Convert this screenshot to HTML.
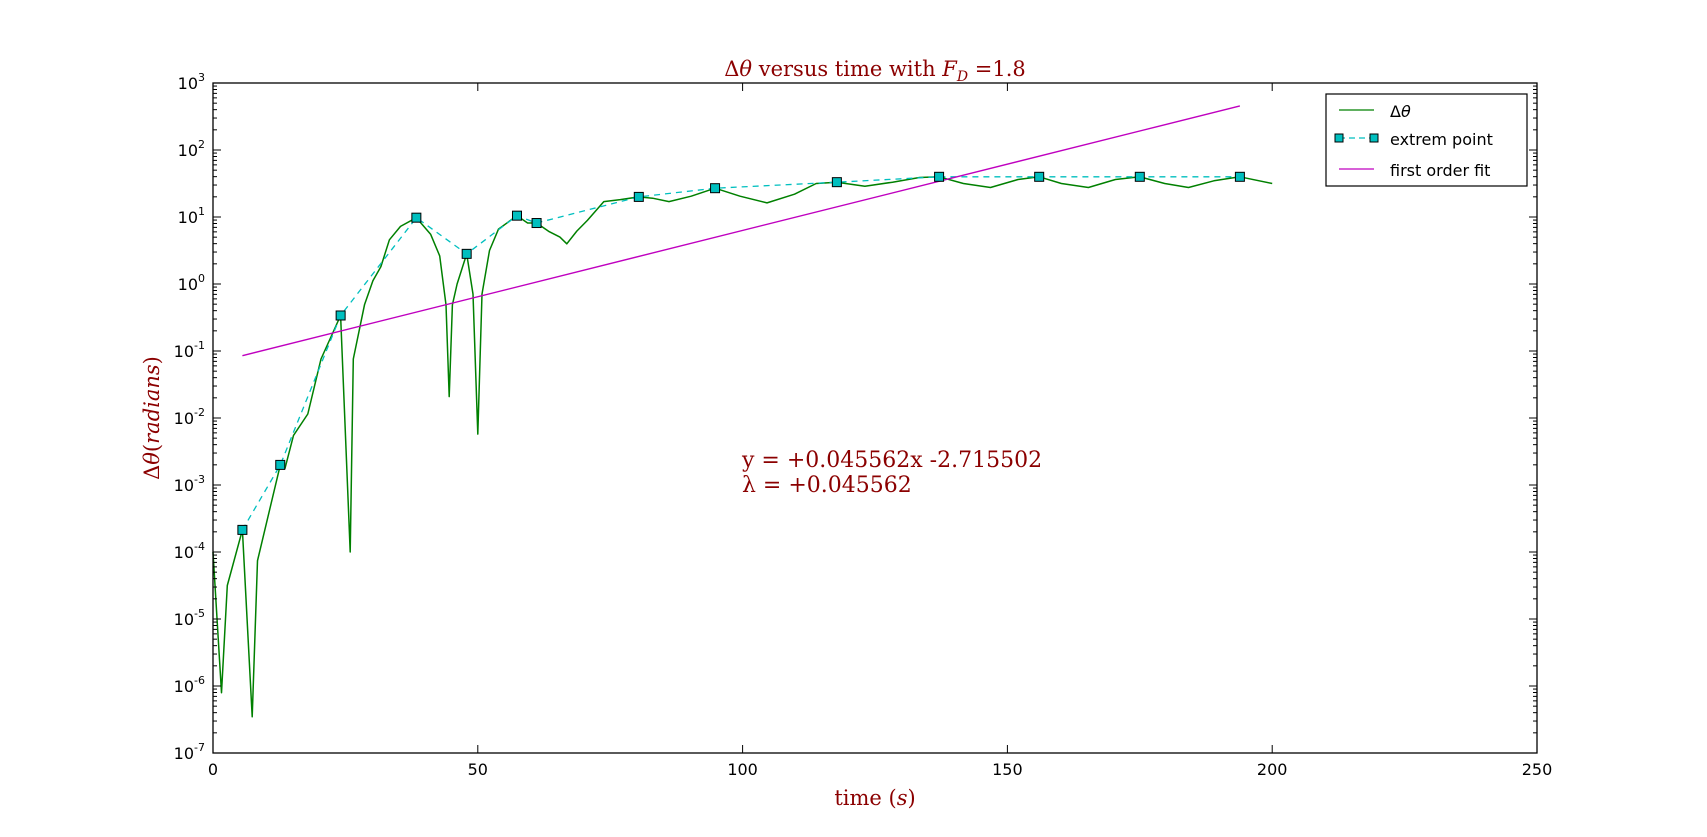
<!DOCTYPE html>
<html><head><meta charset="utf-8"><style>
html,body{margin:0;padding:0;background:#fff;}
svg{display:block;}
.tk{font-family:"DejaVu Sans","Liberation Sans",sans-serif;font-size:16px;fill:#000;}
.red{font-family:"DejaVu Serif","Liberation Serif",serif;fill:#8b0000;}
</style></head><body>
<svg id="chart" width="1707" height="837" viewBox="0 0 1707 837" xmlns="http://www.w3.org/2000/svg">
<rect x="0" y="0" width="1707" height="837" fill="#fff"/>
<g id="plot"></g>
<text class="red" x="875" y="76" text-anchor="middle" font-size="21">Δ<tspan font-style="italic">θ</tspan> versus time with <tspan font-style="italic">F</tspan><tspan font-style="italic" font-size="14" dy="5">D</tspan><tspan dy="-5"> =1.8</tspan></text>
<text class="red" x="875" y="805" text-anchor="middle" font-size="21">time (<tspan font-style="italic">s</tspan>)</text>
<text class="red" transform="translate(159,418) rotate(-90)" text-anchor="middle" font-size="21">Δ<tspan font-style="italic">θ</tspan>(<tspan font-style="italic">radians</tspan>)</text>
<text class="red" x="742" y="467" font-size="22">y = +0.045562x -2.715502</text>
<text class="red" x="742" y="492" font-size="22">λ = +0.045562</text>
<g>
<rect x="1326" y="94" width="201" height="92" fill="#fff" stroke="#000" stroke-width="1.2"/>
<g>
<line x1="1339" y1="110" x2="1374" y2="110" stroke="#008000" stroke-width="1.3"/>
<text class="tk" x="1390" y="117" font-size="18" font-family="DejaVu Serif,serif">Δ<tspan font-style="italic">θ</tspan></text></g>
<g>
<line x1="1339" y1="138" x2="1374" y2="138" stroke="#00bfbf" stroke-width="1.3" stroke-dasharray="6,4"/>
<rect x="1335" y="134" width="8" height="8" fill="#00bfbf" stroke="#000" stroke-width="1"/>
<rect x="1370" y="134" width="8" height="8" fill="#00bfbf" stroke="#000" stroke-width="1"/>
<text class="tk" x="1390" y="145" font-size="18">extrem point</text></g>
<g>
<line x1="1339" y1="169" x2="1374" y2="169" stroke="#bf00bf" stroke-width="1.3"/>
<text class="tk" x="1390" y="176" font-size="18">first order fit</text></g>
</g>
</svg>
<script>
const curveT=[0,1.6,2.7,5.55,7.4,8.4,12.7,13.6,15.2,17.9,20.4,24.1,25.9,26.5,28.6,30.2,31.7,33.3,35.4,38.4,41.1,42.8,44.0,44.6,45.2,46.1,47.9,49.1,50,50.8,52.2,53.9,57.4,59.4,61.1,63.5,65.5,66.8,68.7,70.7,73.8,76.9,80.4,83,86.1,90.3,94.8,99.5,104.6,109.8,113.9,117.8,123.1,128.3,133.4,137.1,141.7,146.8,152,156,160.2,165.3,170.4,175,179.7,184.2,189,193.9,200];
const curveLog=[-4,-6.1,-4.5,-3.67,-6.46,-4.13,-2.7,-2.75,-2.26,-1.94,-1.12,-0.47,-4.0,-1.12,-0.31,0.05,0.26,0.66,0.86,0.99,0.74,0.42,-0.31,-1.68,-0.31,0.0,0.45,-0.15,-2.24,-0.15,0.5,0.82,1.02,0.91,0.91,0.78,0.7,0.6,0.79,0.95,1.23,1.26,1.3,1.28,1.23,1.31,1.43,1.31,1.21,1.34,1.5,1.52,1.46,1.52,1.59,1.6,1.5,1.44,1.56,1.6,1.5,1.44,1.56,1.6,1.5,1.44,1.54,1.6,1.5];
const extT=[5.55,12.7,24.1,38.4,47.9,57.4,61.1,80.4,94.8,117.8,137.1,156,175,193.9];
const extLog=[-3.67,-2.7,-0.47,0.99,0.45,1.02,0.91,1.3,1.43,1.52,1.6,1.6,1.6,1.6];
const fitSlope=0.045562, fitIntercept=-2.715502;
const xTicks=[0,50,100,150,200,250];
const yTicks=[-7,-6,-5,-4,-3,-2,-1,0,1,2,3];

const L=213,R=1537,T=83,B=753;
const X=t=>L+(t-0)/(250-0)*(R-L);
const Y=lg=>B-(lg-(-7))/(3-(-7))*(B-T);
const NS="http://www.w3.org/2000/svg";
const g=document.getElementById('plot');
function mk(tag,attrs,parent){const e=document.createElementNS(NS,tag);for(const k in attrs)e.setAttribute(k,attrs[k]);(parent||g).appendChild(e);return e;}

// green curve
let d=curveT.map((t,i)=>(i?'L':'M')+X(t).toFixed(1)+','+Y(curveLog[i]).toFixed(1)).join(' ');
const cv=mk('path',{d:d,fill:'none',stroke:'#008000','stroke-width':1.5,'stroke-linejoin':'round'});


// extrem dashed
d=extT.map((t,i)=>(i?'L':'M')+X(t).toFixed(1)+','+Y(extLog[i]).toFixed(1)).join(' ');
const ev=mk('path',{d:d,fill:'none',stroke:'#00bfbf','stroke-width':1.3,'stroke-dasharray':'6,5'});


// fit line
const t0=extT[0],t1=extT[extT.length-1];
const fl=mk('line',{x1:X(t0),y1:Y((fitSlope*t0+fitIntercept)/Math.LN10),x2:X(t1),y2:Y((fitSlope*t1+fitIntercept)/Math.LN10),stroke:'#bf00bf','stroke-width':1.4});


// markers
extT.forEach((t,i)=>{const m=mk('rect',{x:X(t)-4.5,y:Y(extLog[i])-4.5,width:9,height:9,fill:'#00bfbf',stroke:'#000','stroke-width':1});

});
// axes frame
const fr=mk('rect',{x:L,y:T,width:R-L,height:B-T,fill:'none',stroke:'#000','stroke-width':1.3});


// x ticks
xTicks.forEach(v=>{const x=X(v);
mk('line',{x1:x,y1:B,x2:x,y2:B-8,stroke:'#000'});mk('line',{x1:x,y1:T,x2:x,y2:T+8,stroke:'#000'});
const tx=mk('text',{x:x,y:B+22,'text-anchor':'middle',class:'tk'});tx.textContent=v;

});
// y ticks
yTicks.forEach(v=>{const y=Y(v);
mk('line',{x1:L,y1:y,x2:L+8,y2:y,stroke:'#000'});mk('line',{x1:R,y1:y,x2:R-8,y2:y,stroke:'#000'});
if(v<3){for(let k=2;k<10;k++){const yy=Y(v+Math.log10(k));mk('line',{x1:L,y1:yy,x2:L+4,y2:yy,stroke:'#000'});mk('line',{x1:R,y1:yy,x2:R-4,y2:yy,stroke:'#000'});}}
const tx=mk('text',{x:L-8,y:y+6,'text-anchor':'end',class:'tk'});


tx.innerHTML='10<tspan font-size="11" dy="-8">'+(v<0?'-'+(-v):v)+'</tspan>';});
</script>
</body></html>
